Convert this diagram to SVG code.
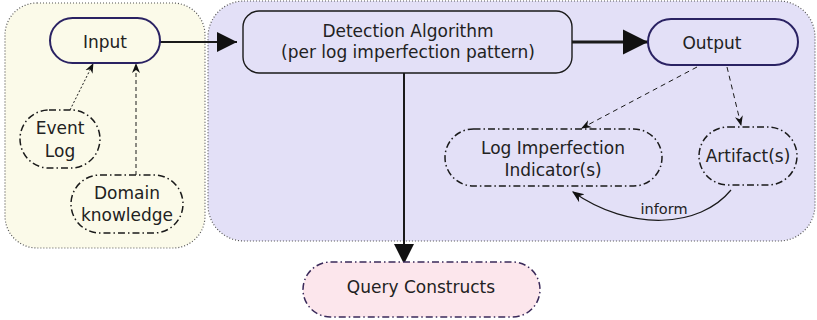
<svg xmlns="http://www.w3.org/2000/svg" width="817" height="320" viewBox="0 0 817 320">
  <style>
    text { font-family: "DejaVu Sans", Verdana, sans-serif; font-size: 17px; fill: #222222; text-anchor: middle; }
    .small { font-size: 14.5px; }
    .container { stroke: #555; stroke-width: 1.2; stroke-dasharray: 1 2; }
    .yellow { fill: #fbfae9; }
    .purple { fill: #e3e0f7; }
    .solid { stroke: #1a1a1a; stroke-width: 1.4; }
    .term { stroke: #2a2263; stroke-width: 2; }
    .dd { stroke: #1a1a1a; stroke-width: 1.5; stroke-dasharray: 7 3 1.5 3; }
    .conn { fill: none; stroke: #1a1a1a; }
  </style>
  <defs>
    <marker id="big" viewBox="0 0 10 10" refX="10" refY="5" markerWidth="10" markerHeight="10" markerUnits="strokeWidth" orient="auto">
      <path d="M0,0 L10,5 L0,10 z" fill="#111"/>
    </marker>
    <marker id="big3" viewBox="0 0 10 10" refX="10" refY="5" markerWidth="8.5" markerHeight="8.5" markerUnits="strokeWidth" orient="auto">
      <path d="M0,0 L10,5 L0,10 z" fill="#111"/>
    </marker>
    <marker id="small" viewBox="0 0 10 10" refX="9" refY="5" markerWidth="10" markerHeight="10" markerUnits="strokeWidth" orient="auto">
      <path d="M0,1 L10,5 L0,9 L3,5 z" fill="#111"/>
    </marker>
  </defs>

  <!-- containers -->
  <rect class="container yellow" x="5" y="3" width="200" height="245" rx="32"/>
  <rect class="container purple" x="208" y="1" width="607" height="240" rx="36"/>

  <g id="connectors">
    <line class="conn" x1="160" y1="42" x2="237" y2="42" stroke-width="2" marker-end="url(#big)"/>
    <line class="conn" x1="572" y1="42" x2="648" y2="42" stroke-width="3" marker-end="url(#big3)"/>
    <line class="conn" x1="404" y1="73" x2="404" y2="264" stroke-width="2" marker-end="url(#big)"/>
    <line class="conn" x1="70" y1="110" x2="93" y2="64" stroke-width="1" stroke-dasharray="2 2" marker-end="url(#small)"/>
    <line class="conn" x1="136" y1="175" x2="136" y2="64" stroke-width="1" stroke-dasharray="4 3" marker-end="url(#small)"/>
    <line class="conn" x1="697" y1="67" x2="582" y2="128" stroke-width="1" stroke-dasharray="5 4" marker-end="url(#small)"/>
    <line class="conn" x1="727" y1="67" x2="741" y2="125" stroke-width="1" stroke-dasharray="5 4" marker-end="url(#small)"/>
    <path class="conn" d="M731,190 C700,228 630,232 573,192" stroke-width="1.2" marker-end="url(#small)"/>
    <text class="small" x="664" y="214">inform</text>
  </g>

  <g id="input">
    <rect class="term yellow" x="50" y="18" width="110" height="45" rx="22.5"/>
    <text x="105" y="48">Input</text>
  </g>
  <g id="event-log">
    <rect class="dd yellow" x="20" y="110" width="80" height="58" rx="29"/>
    <text x="60" y="134">Event</text>
    <text x="60" y="157">Log</text>
  </g>
  <g id="domain-knowledge">
    <rect class="dd yellow" x="71" y="175" width="112" height="58" rx="29"/>
    <text x="127" y="199">Domain</text>
    <text x="127" y="221">knowledge</text>
  </g>
  <g id="detection">
    <rect class="solid purple" x="243" y="11" width="329" height="62" rx="16"/>
    <text x="408" y="37">Detection Algorithm</text>
    <text x="408" y="58">(per log imperfection pattern)</text>
  </g>
  <g id="output">
    <rect class="term purple" x="648" y="19" width="150" height="46" rx="23"/>
    <text x="712" y="49">Output</text>
  </g>
  <g id="indicator">
    <rect class="dd purple" x="445" y="129" width="217" height="57" rx="28.5"/>
    <text x="553" y="154">Log Imperfection</text>
    <text x="553" y="176">Indicator(s)</text>
  </g>
  <g id="artifact">
    <rect class="dd purple" x="699" y="127" width="98" height="58" rx="29"/>
    <text x="748" y="162">Artifact(s)</text>
  </g>
  <g id="query">
    <rect class="dd" x="303" y="262" width="237" height="55" rx="27.5" style="fill:#fce6ec; stroke:#3a2a5a"/>
    <text x="421" y="293">Query Constructs</text>
  </g>
</svg>
